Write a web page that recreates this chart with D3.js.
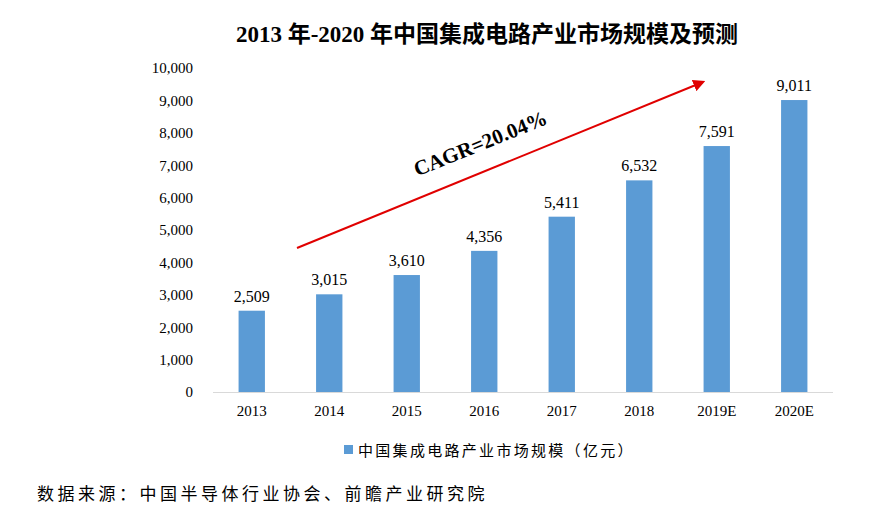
<!DOCTYPE html>
<html><head><meta charset="utf-8">
<script src="https://cdn.jsdelivr.net/npm/d3@7"></script>
<style>body{margin:0;background:#fff}</style>
</head><body>
<svg width="881" height="513"></svg>
<script>
var years = ["2013","2014","2015","2016","2017","2018","2019E","2020E"];
var values = [2509,3015,3610,4356,5411,6532,7591,9011];
var yTicks = [0,1000,2000,3000,4000,5000,6000,7000,8000,9000,10000];

var svg = d3.select("svg");
var serif = "'Liberation Serif','Times New Roman',serif";
var cjk = "'Noto Sans CJK SC',sans-serif";

var x = d3.scaleBand().domain(years).range([213, 833]).paddingInner(0.66).paddingOuter(0.33);
var y = d3.scaleLinear().domain([0, 10000]).range([392, 68]);

svg.append("text").attr("x", 487).attr("y", 42).attr("text-anchor", "middle")
  .attr("font-family", serif + "," + cjk).attr("font-weight", "bold").attr("font-size", 23)
  .text("2013 年-2020 年中国集成电路产业市场规模及预测");

var yAxis = svg.append("g").attr("transform", "translate(205,0)")
  .call(d3.axisLeft(y).tickValues(yTicks).tickSize(0).tickPadding(12).tickFormat(d3.format(",")));
yAxis.select(".domain").remove();
yAxis.selectAll("text").attr("font-family", serif).attr("font-size", 15).attr("fill", "#000");

svg.append("line").attr("x1", 213).attr("x2", 833).attr("y1", 392.5).attr("y2", 392.5)
  .attr("stroke", "#d9d9d9");

var xAxis = svg.append("g").attr("transform", "translate(0,392)")
  .call(d3.axisBottom(x).tickSize(0).tickPadding(13));
xAxis.select(".domain").remove();
xAxis.selectAll("text").attr("font-family", serif).attr("font-size", 15).attr("fill", "#000");

svg.selectAll(".bar").data(values).enter().append("rect")
  .attr("x", function(d, i) { return x(years[i]); })
  .attr("width", x.bandwidth())
  .attr("y", function(d) { return y(d); })
  .attr("height", function(d) { return y(0) - y(d); })
  .attr("fill", "#5b9bd5");

svg.selectAll(".lbl").data(values).enter().append("text")
  .attr("x", function(d, i) { return x(years[i]) + x.bandwidth() / 2; })
  .attr("y", function(d) { return y(d) - 9; })
  .attr("text-anchor", "middle").attr("font-family", serif).attr("font-size", 16)
  .text(d3.format(","));

svg.append("defs").append("marker").attr("id", "ah").attr("viewBox", "0 0 10 10")
  .attr("refX", 8).attr("refY", 5).attr("markerWidth", 6).attr("markerHeight", 6)
  .attr("orient", "auto").append("path").attr("d", "M0,0L10,5L0,10z").attr("fill", "#e00000");
svg.append("line").attr("x1", 297).attr("y1", 248).attr("x2", 703).attr("y2", 82)
  .attr("stroke", "#e00000").attr("stroke-width", 2).attr("marker-end", "url(#ah)");

svg.append("text").attr("transform", "translate(483,150) rotate(-22)")
  .attr("text-anchor", "middle").attr("font-family", serif).attr("font-weight", "bold")
  .attr("font-size", 21).text("CAGR=20.04%");

svg.append("rect").attr("x", 344).attr("y", 445).attr("width", 9).attr("height", 9).attr("fill", "#5b9bd5");
svg.append("text").attr("x", 358).attr("y", 456).attr("font-family", cjk).attr("font-size", 15)
  .attr("letter-spacing", 2.3).text("中国集成电路产业市场规模（亿元）");

svg.append("text").attr("x", 37).attr("y", 500).attr("font-family", cjk).attr("font-size", 17)
  .attr("letter-spacing", 3.5).text("数据来源：中国半导体行业协会、前瞻产业研究院");
</script>
</body></html>
